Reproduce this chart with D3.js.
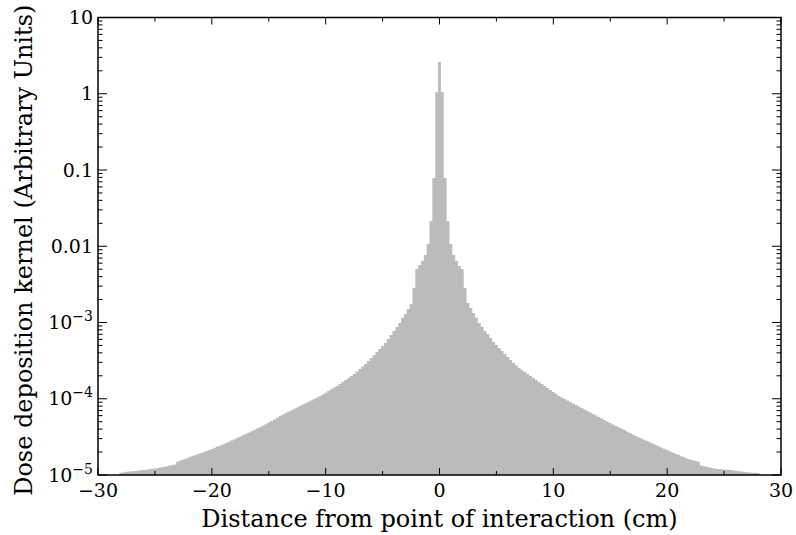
<!DOCTYPE html>
<html>
<head>
<meta charset="utf-8">
<script src="https://cdn.jsdelivr.net/npm/d3@7"></script>
<style>
  body { margin: 0; background: #fff; }
  svg { display: block; font-family: "DejaVu Serif", serif; }
  .tick-label { font-size: 19px; fill: #000; }
  .axis-title { font-size: 24px; fill: #000; }
</style>
</head>
<body>
<div id="chart"></div>
<script>
// Histogram of the dose deposition kernel, 0.25 cm bins centred on 0
const binWidth = 0.25;
const centerValue = 2.61;

// bins +1 ... +112 (moving right from the centre)
const rightValues = [
  1.05, 0.0785, 0.0214, 0.0107, 0.00767, 0.00641, 0.00551, 0.00504, 0.00283, 0.00180,
  0.00155, 0.00133, 0.00115, 9.85e-4, 8.73e-4, 7.75e-4, 7.06e-4, 6.26e-4, 5.55e-4, 5.07e-4,
  4.63e-4, 4.23e-4, 3.86e-4, 3.53e-4, 3.22e-4, 2.94e-4, 2.73e-4, 2.53e-4, 2.38e-4, 2.24e-4,
  2.11e-4, 1.99e-4, 1.87e-4, 1.76e-4, 1.66e-4, 1.56e-4, 1.47e-4, 1.38e-4, 1.30e-4, 1.23e-4,
  1.15e-4, 1.09e-4, 1.04e-4, 9.93e-5, 9.48e-5, 9.06e-5, 8.66e-5, 8.28e-5, 7.91e-5, 7.56e-5,
  7.23e-5, 6.91e-5, 6.60e-5, 6.31e-5, 6.03e-5, 5.76e-5, 5.51e-5, 5.26e-5, 5.03e-5, 4.81e-5,
  4.59e-5, 4.39e-5, 4.22e-5, 4.06e-5, 3.89e-5, 3.72e-5, 3.55e-5, 3.40e-5, 3.25e-5, 3.13e-5,
  3.02e-5, 2.91e-5, 2.79e-5, 2.68e-5, 2.58e-5, 2.48e-5, 2.39e-5, 2.29e-5, 2.21e-5, 2.13e-5,
  2.05e-5, 1.97e-5, 1.90e-5, 1.83e-5, 1.76e-5, 1.71e-5, 1.65e-5, 1.60e-5, 1.56e-5, 1.53e-5,
  1.49e-5, 1.33e-5, 1.30e-5, 1.27e-5, 1.25e-5, 1.23e-5, 1.21e-5, 1.20e-5, 1.19e-5, 1.18e-5,
  1.17e-5, 1.16e-5, 1.15e-5, 1.14e-5, 1.12e-5, 1.11e-5, 1.10e-5, 1.09e-5, 1.08e-5, 1.07e-5,
  1.07e-5, 1.06e-5
];

// bins -1 ... -112 (moving left from the centre)
const leftValues = [
  1.05, 0.0785, 0.0214, 0.0107, 0.00767, 0.00647, 0.00568, 0.00504, 0.00283, 0.00175,
  0.00150, 0.00129, 0.00115, 9.85e-4, 8.73e-4, 7.75e-4, 6.86e-4, 6.08e-4, 5.38e-4, 4.92e-4,
  4.49e-4, 4.10e-4, 3.75e-4, 3.42e-4, 3.13e-4, 2.86e-4, 2.65e-4, 2.45e-4, 2.28e-4, 2.11e-4,
  1.99e-4, 1.87e-4, 1.76e-4, 1.66e-4, 1.56e-4, 1.47e-4, 1.40e-4, 1.33e-4, 1.26e-4, 1.20e-4,
  1.14e-4, 1.08e-4, 1.04e-4, 9.93e-5, 9.51e-5, 9.12e-5, 8.74e-5, 8.38e-5, 8.03e-5, 7.70e-5,
  7.38e-5, 7.08e-5, 6.78e-5, 6.50e-5, 6.20e-5, 5.90e-5, 5.62e-5, 5.36e-5, 5.11e-5, 4.87e-5,
  4.64e-5, 4.44e-5, 4.26e-5, 4.08e-5, 3.92e-5, 3.75e-5, 3.60e-5, 3.45e-5, 3.32e-5, 3.19e-5,
  3.07e-5, 2.95e-5, 2.84e-5, 2.73e-5, 2.63e-5, 2.53e-5, 2.44e-5, 2.36e-5, 2.27e-5, 2.19e-5,
  2.12e-5, 2.05e-5, 1.99e-5, 1.93e-5, 1.87e-5, 1.81e-5, 1.76e-5, 1.71e-5, 1.65e-5, 1.60e-5,
  1.55e-5, 1.49e-5, 1.37e-5, 1.34e-5, 1.32e-5, 1.29e-5, 1.27e-5, 1.25e-5, 1.24e-5, 1.22e-5,
  1.20e-5, 1.19e-5, 1.17e-5, 1.16e-5, 1.15e-5, 1.14e-5, 1.13e-5, 1.12e-5, 1.11e-5, 1.10e-5,
  1.09e-5, 1.07e-5
];

const xTicks = [-30, -20, -10, 0, 10, 20, 30];
const xMinorTicks = [-25, -15, -5, 5, 15, 25];
const yTicks = [10, 1, 0.1, 0.01, 1e-3, 1e-4, 1e-5];
const yTickLabels = [["10"], ["1"], ["0.1"], ["0.01"], ["10", "\u22123"], ["10", "\u22124"], ["10", "\u22125"]];
const xTitle = "Distance from point of interaction (cm)";
const yTitle = "Dose deposition kernel (Arbitrary Units)";

const svgWidth = 796;
const svgHeight = 535;
const margin = { top: 17.5, right: 15, bottom: 60, left: 98 };
const width = svgWidth - margin.left - margin.right;
const height = svgHeight - margin.top - margin.bottom;

const x = d3.scaleLinear().domain([-30, 30]).range([0, width]);
const y = d3.scaleLog().domain([1e-5, 10]).range([height, 0]);

// assemble bins left to right
const bins = [];
leftValues.slice().reverse().forEach((v, i) => {
  const k = -(leftValues.length - i);
  bins.push({ c: k * binWidth, v });
});
bins.push({ c: 0, v: centerValue });
rightValues.forEach((v, i) => bins.push({ c: (i + 1) * binWidth, v }));

const pts = [];
bins.forEach(b => {
  pts.push([b.c - binWidth / 2, b.v]);
  pts.push([b.c + binWidth / 2, b.v]);
});

const svg = d3.select("#chart").append("svg")
  .attr("width", svgWidth)
  .attr("height", svgHeight);

svg.append("defs").append("clipPath").attr("id", "clip")
  .append("rect").attr("width", width).attr("height", height);

const g = svg.append("g").attr("transform", `translate(${margin.left},${margin.top})`);

const area = d3.area()
  .x(d => x(d[0]))
  .y0(height)
  .y1(d => y(d[1]));

g.append("path")
  .datum(pts)
  .attr("clip-path", "url(#clip)")
  .attr("fill", "#bbbbbb")
  .attr("d", area);

// ticks (inward, all four sides)
const tickG = g.append("g").attr("stroke", "#000").attr("stroke-width", 1);
const majX = 7, minX = 4, majY = 9, minY = 4.5;
xTicks.forEach(t => {
  tickG.append("line").attr("x1", x(t)).attr("x2", x(t)).attr("y1", height).attr("y2", height - majX);
  tickG.append("line").attr("x1", x(t)).attr("x2", x(t)).attr("y1", 0).attr("y2", majX);
});
xMinorTicks.forEach(t => {
  tickG.append("line").attr("x1", x(t)).attr("x2", x(t)).attr("y1", height).attr("y2", height - minX);
  tickG.append("line").attr("x1", x(t)).attr("x2", x(t)).attr("y1", 0).attr("y2", minX);
});
yTicks.forEach(t => {
  tickG.append("line").attr("x1", 0).attr("x2", majY).attr("y1", y(t)).attr("y2", y(t));
  tickG.append("line").attr("x1", width).attr("x2", width - majY).attr("y1", y(t)).attr("y2", y(t));
});
const minorY = [];
yTicks.slice(1).forEach(dec => {
  for (let m = 2; m <= 9; m++) minorY.push(dec * m);
});
minorY.forEach(t => {
  tickG.append("line").attr("x1", 0).attr("x2", minY).attr("y1", y(t)).attr("y2", y(t));
  tickG.append("line").attr("x1", width).attr("x2", width - minY).attr("y1", y(t)).attr("y2", y(t));
});

// frame
g.append("rect")
  .attr("width", width)
  .attr("height", height)
  .attr("fill", "none")
  .attr("stroke", "#000")
  .attr("stroke-width", 1.5);

// x tick labels
g.append("g").selectAll("text")
  .data(xTicks)
  .join("text")
  .attr("class", "tick-label")
  .attr("x", d => x(d))
  .attr("y", height + 22)
  .attr("text-anchor", "middle")
  .text(d => d < 0 ? "\u2212" + Math.abs(d) : d);

// y tick labels
const yl = g.append("g").selectAll("text")
  .data(yTicks)
  .join("text")
  .attr("class", "tick-label")
  .attr("x", -5)
  .attr("y", d => y(d) + 6.5)
  .attr("text-anchor", "end");
yl.each(function(d, i) {
  const parts = yTickLabels[i];
  const t = d3.select(this);
  t.append("tspan").text(parts[0]);
  if (parts[1]) {
    t.append("tspan").attr("dy", -8).attr("font-size", "14px").text(parts[1]);
  }
});

// axis titles
g.append("text")
  .attr("class", "axis-title")
  .attr("x", width / 2)
  .attr("y", height + 52)
  .attr("text-anchor", "middle")
  .text(xTitle);

g.append("text")
  .attr("class", "axis-title")
  .attr("transform", `translate(${-66},${height / 2 + 4}) rotate(-90)`)
  .attr("text-anchor", "middle")
  .text(yTitle);
</script>
</body>
</html>
